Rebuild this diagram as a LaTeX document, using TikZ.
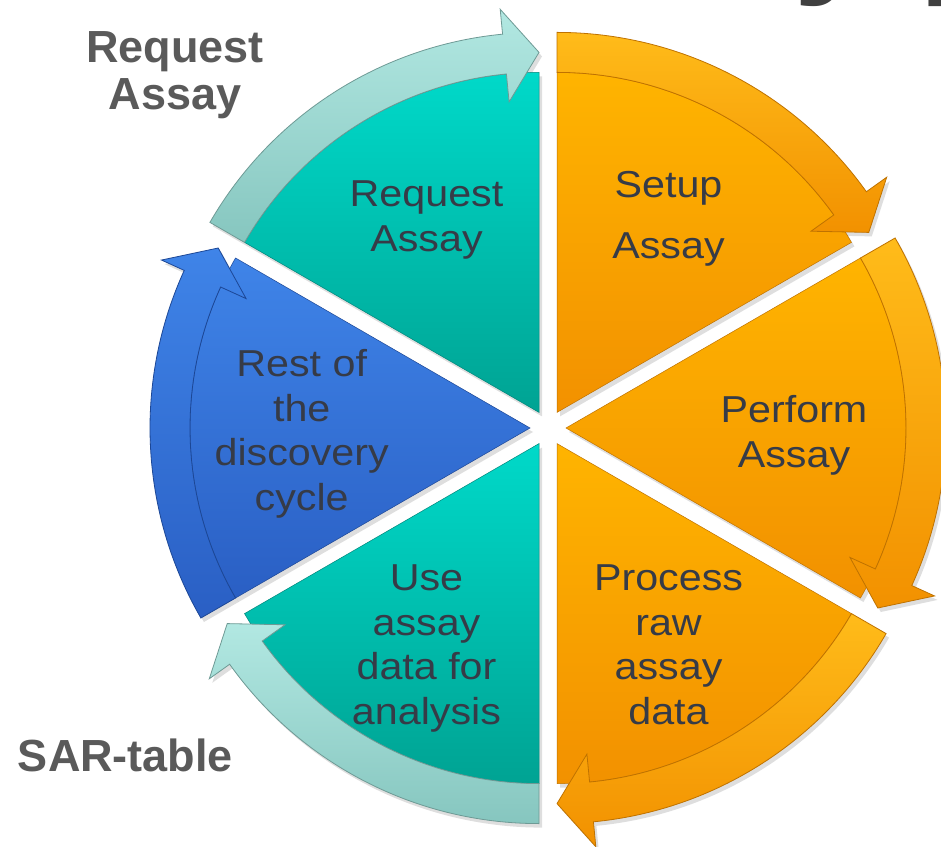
\documentclass[tikz,border=0pt]{standalone}
\usepackage{fontspec}
\setmainfont{Liberation Sans}
\newfontfamily\wfont[FakeStretch=1.1]{Liberation Sans}
\definecolor{tealA}{HTML}{00D9C9}
\definecolor{tealB}{HTML}{00A393}
\definecolor{tealE}{HTML}{00857A}
\definecolor{paleA}{HTML}{B2E8E2}
\definecolor{paleB}{HTML}{86C6BF}
\definecolor{paleE}{HTML}{6E9A95}
\definecolor{orA}{HTML}{FFB400}
\definecolor{orB}{HTML}{F29100}
\definecolor{orE}{HTML}{BF7200}
\definecolor{blA}{HTML}{3F84E8}
\definecolor{blB}{HTML}{2A5FC4}
\definecolor{blE}{HTML}{1C4796}
\definecolor{txt}{HTML}{363B47}
\definecolor{lbl}{HTML}{5A5A5A}
\definecolor{ttl}{HTML}{404040}
\tikzset{
  x=1pt, y=1pt,
  shadowfill/.style={fill=black, opacity=0.13},
  secT/.style={top color=tealA, bottom color=tealB, draw=tealE, line width=0.5pt},
  secO/.style={top color=orA, bottom color=orB, draw=orE, line width=0.5pt},
  secB/.style={top color=blA, bottom color=blB, draw=blE, line width=0.5pt},
  bandP/.style={top color=paleA, bottom color=paleB, draw=paleE, line width=0.8pt},
  bandO/.style={top color=orA!90!white, bottom color=orB, draw=orE, line width=0.8pt},
  bandB/.style={top color=blA, bottom color=blB, draw=blE, line width=0.8pt},
  wtext/.style={text=txt, font=\wfont\fontsize{37.5}{44.5}\selectfont, anchor=base, inner sep=0pt},
  otext/.style={text=lbl, font=\bfseries\fontsize{45}{47}\selectfont, anchor=base, inner sep=0pt},
}
% #1 apex x, #2 apex y, #3 tip angle (clockwise end), #4 sector style, #5 band style
\newcommand{\cycseg}[5]{%
  \pgfmathsetmacro\segA{#3}%
  \pgfmathsetmacro\segB{#3+60}%
  \pgfmathsetmacro\segH{#3+5.5}%
  \begin{scope}[shift={(#1pt,#2pt)}]
    \fill[shadowfill, shift={(3pt,-4pt)}] (0,0) -- (\segA:340pt) arc[start angle=\segA, end angle=\segB, radius=340pt] -- cycle;
    \fill[shadowfill, shift={(3pt,-4pt)}] (\segB:340pt) -- (\segB:380pt) arc[start angle=\segB, end angle=\segH, radius=380pt]
      -- (\segH:405pt) -- (\segA:360pt) -- (\segH:312pt) -- (\segH:340pt) arc[start angle=\segH, end angle=\segB, radius=340pt] -- cycle;
    \shade[#4] (0,0) -- (\segA:340pt) arc[start angle=\segA, end angle=\segB, radius=340pt] -- cycle;
    \shade[#5] (\segB:340pt) -- (\segB:380pt) arc[start angle=\segB, end angle=\segH, radius=380pt]
      -- (\segH:405pt) -- (\segA:360pt) -- (\segH:312pt) -- (\segH:340pt) arc[start angle=\segH, end angle=\segB, radius=340pt] -- cycle;
  \end{scope}}
\begin{document}
\begin{tikzpicture}
\useasboundingbox (0,0) rectangle (941,846);
\fill[white] (0,0) rectangle (941,846);
% partially visible title above the picture
\node[anchor=base west, text=ttl, font=\bfseries\fontsize{150}{150}\selectfont, inner sep=0pt] (title) at (793,870.5) {y p};
% segments
\cycseg{539}{433.6}{90}{secT}{bandP}
\cycseg{557}{433.6}{30}{secO}{bandO}
\cycseg{566}{418}{-30}{secO}{bandO}
\cycseg{557}{402.4}{-90}{secO}{bandO}
\cycseg{539}{402.4}{210}{secT}{bandP}
\cycseg{530}{418}{150}{secB}{bandB}
% texts in segments
\node[wtext] (t1) at (426.5,639.3) {\begin{tabular}[t]{@{}c@{}}Request\\Assay\end{tabular}};
\node[wtext] (t2) at (668.5,648) {\begin{tabular}[t]{@{}c@{}}Setup\\[16.5pt]Assay\end{tabular}};
\node[wtext] (t3) at (794,423) {\begin{tabular}[t]{@{}c@{}}Perform\\Assay\end{tabular}};
\node[wtext] (t4) at (668.5,255) {\begin{tabular}[t]{@{}c@{}}Process\\raw\\assay\\data\end{tabular}};
\node[wtext] (t5) at (426.5,255) {\begin{tabular}[t]{@{}c@{}}Use\\assay\\data for\\analysis\end{tabular}};
\node[wtext] (t6) at (301.7,469) {\begin{tabular}[t]{@{}c@{}}Rest of\\the\\discovery\\cycle\end{tabular}};
% outer labels
\node[otext] (l1) at (175,783) {\begin{tabular}[t]{@{}c@{}}Request\\Assay\end{tabular}};
\node[otext] (l2) at (125.5,75) {SAR-table};
\end{tikzpicture}
\end{document}
